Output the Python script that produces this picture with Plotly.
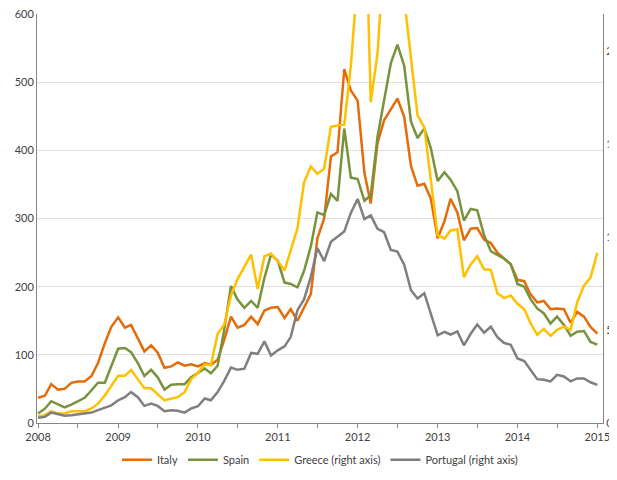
import pandas as pd
import plotly.graph_objects as go

months = pd.date_range("2008-01-01", "2015-01-01", freq="MS")

italy = [37,40,57,49,50,59,61,61,69,88,117,141,155,140,144,123,105,114,103,81,83,89,84,86,83,88,
         85,93,122,156,140,144,156,145,165,169,170,154,167,150,170,189,271,300,391,397,
         519,488,473,367,322,411,444,461,476,449,377,348,351,329,271,296,329,309,268,
         285,286,269,264,250,242,233,210,208,189,177,179,167,168,167,147,163,156,141,131]

spain = [14,21,32,28,23,27,32,37,48,59,59,85,109,110,104,88,69,78,67,49,56,57,57,67,73,80,
         73,84,137,201,181,169,179,169,213,247,238,206,204,199,223,259,309,305,336,326,
         432,360,358,326,334,420,473,528,555,524,442,418,432,403,355,368,357,340,297,
         314,312,276,252,246,241,233,204,200,182,168,161,146,156,144,128,134,135,119,115]

greece = [37,42,63,51,51,63,63,63,78,104,148,201,254,254,286,236,187,187,157,122,131,139,166,236,271,316,
          310,480,528,686,774,839,906,721,897,910,871,821,924,1047,1294,1380,1340,1368,1593,1601,1605,1920,
          2400,3000,1725,1988,2520,2700,2600,2290,1975,1655,1590,1301,1010,992,1036,1042,785,
          853,897,827,823,698,672,686,641,612,539,474,506,469,501,518,501,650,739,783,915]

portugal = [28,33,56,48,39,42,46,48,56,69,81,95,122,139,166,139,92,104,92,63,69,66,56,78,90,132,
            122,166,227,298,286,292,377,372,439,363,391,412,462,607,665,786,941,871,975,1000,1030,
            1130,1205,1097,1117,1044,1026,931,922,851,714,670,698,587,472,490,476,493,418,
            480,530,486,518,462,430,421,347,333,289,236,233,224,259,250,224,240,240,219,205]

year_labels = ["2008", "2009", "2010", "2011", "2012", "2013", "2014", "2015"]
left_ticks = [0, 100, 200, 300, 400, 500, 600]
right_ticks = [0, 500, 1000, 1500, 2000]

tick_dates = pd.date_range("2008-01-01", "2015-01-01", freq="6MS")
tick_text = [d.strftime("%Y") if d.month == 1 else "" for d in tick_dates]

series = [
    ("Italy", italy, "#E46C0A", "y"),
    ("Spain", spain, "#77933C", "y"),
    ("Greece (right axis)", greece, "#FFC000", "y2"),
    ("Portugal (right axis)", portugal, "#7F7F7F", "y2"),
]

fig = go.Figure()
for name, vals, color, ax in series:
    fig.add_trace(go.Scatter(x=months, y=vals, name=name, mode="lines",
                             line=dict(color=color, width=2.5), yaxis=ax))

font = dict(family="Lato, 'Open Sans', sans-serif", size=11, color="#404040")

fig.update_layout(
    width=609, height=472,
    margin=dict(l=29, r=14, t=6, b=52),
    paper_bgcolor="white", plot_bgcolor="white",
    font=font,
    showlegend=True,
    legend=dict(orientation="h", x=0.5, xanchor="center", y=-0.09, yanchor="middle",
                font=dict(size=11, color="#404040"), tracegroupgap=0),
    xaxis=dict(
        range=["2007-12-27", "2015-01-27"], automargin=False,
        tickmode="array", tickvals=tick_dates, ticktext=tick_text,
        ticks="outside", ticklen=4, tickcolor="#868686",
        showline=True, linecolor="#868686", linewidth=1,
        showgrid=False, zeroline=False, ticklabeloverflow="allow",
    ),
    yaxis=dict(
        range=[0, 600], tickmode="array", tickvals=left_ticks, automargin=False,
        showline=True, linecolor="#868686", linewidth=1,
        showgrid=True, gridcolor="#E0E0E0", gridwidth=1,
        zeroline=False, ticks="", ticklabeloverflow="allow",
    ),
    yaxis2=dict(
        range=[0, 2200], tickmode="array", tickvals=right_ticks, automargin=False,
        overlaying="y", side="right", anchor="x",
        showline=True, linecolor="#868686", linewidth=1,
        showgrid=False, zeroline=False, ticks="", ticklabeloverflow="allow",
    ),
)

fig.write_html("out.html")
